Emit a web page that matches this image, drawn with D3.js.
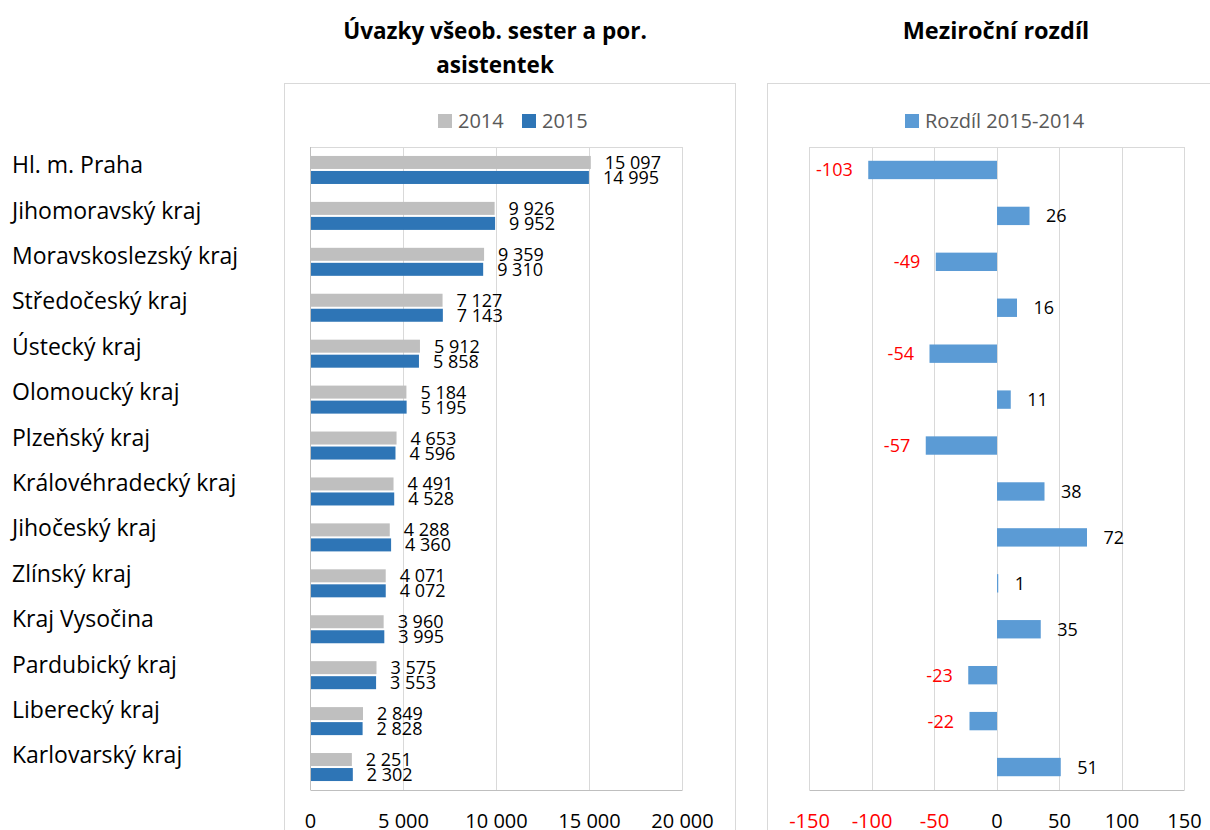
<!DOCTYPE html>
<html><head><meta charset="utf-8">
<script src="https://cdn.jsdelivr.net/npm/d3@7"></script>
<style>
body{margin:0;background:#fff;}
svg{display:block;font-family:"Open Sans",sans-serif;}
</style></head>
<body><svg id="c" width="1210" height="830"></svg>
<script>
const regions = ["Hl. m. Praha","Jihomoravský kraj","Moravskoslezský kraj","Středočeský kraj","Ústecký kraj","Olomoucký kraj","Plzeňský kraj","Královéhradecký kraj","Jihočeský kraj","Zlínský kraj","Kraj Vysočina","Pardubický kraj","Liberecký kraj","Karlovarský kraj"];
const values2014 = [15097,9926,9359,7127,5912,5184,4653,4491,4288,4071,3960,3575,2849,2251];
const values2015 = [14995,9952,9310,7143,5858,5195,4596,4528,4360,4072,3995,3553,2828,2302];
const diffs = [-103,26,-49,16,-54,11,-57,38,72,1,35,-23,-22,51];
const seriesNames = ["2014","2015"];
const leftTicks = [0,5000,10000,15000,20000];
const rightTicks = [-150,-100,-50,0,50,100,150];
const titleLeft = ["Úvazky všeob. sester a por.","asistentek"];
const titleRight = "Meziroční rozdíl";
const legendRight = "Rozdíl 2015-2014";

const loc = d3.formatLocale({decimal:",",thousands:"\u00a0",grouping:[3],currency:["",""],minus:"-"});
const fmt = loc.format(",d");

const svg = d3.select("#c");
const colGray = "#BFBFBF", colBlue = "#2E75B6", colDiff = "#5B9BD5", grid = "#D9D9D9";
const plotTop = 147, plotBottom = 790;

// chart boxes
svg.append("rect").attr("x",284.5).attr("y",83.5).attr("width",451).attr("height",760).attr("fill","none").attr("stroke",grid);
svg.append("rect").attr("x",767.5).attr("y",83.5).attr("width",460).attr("height",760).attr("fill","none").attr("stroke",grid);

// category labels
const yLab = d3.scalePoint().domain(regions).range([165,755]);
svg.append("g").selectAll("text").data(regions).join("text")
  .attr("x",12).attr("y",d=>yLab(d)).attr("dy","0.36em")
  .attr("font-size",23).attr("fill","#000").text(d=>d);

// titles
svg.append("g").selectAll("text").data(titleLeft).join("text")
  .attr("x",495).attr("y",(d,i)=>39+i*34).attr("text-anchor","middle")
  .attr("font-size",22.5).attr("font-weight","bold").text(d=>d);
svg.append("text").attr("x",996).attr("y",39).attr("text-anchor","middle")
  .attr("font-size",23.5).attr("font-weight","bold").text(titleRight);

// ===== Left chart =====
const xL = d3.scaleLinear().domain([0,20000]).range([310,682]);
const yL = d3.scaleBand().domain(regions).range([plotTop,plotBottom]).paddingInner(0.39).paddingOuter(0.195);
const ySub = d3.scaleBand().domain(seriesNames).range([0,yL.bandwidth()]).paddingInner(0.1333);

const gL = svg.append("g");
gL.append("g").selectAll("line").data(leftTicks).join("line")
  .attr("x1",d=>xL(d)+0.5).attr("x2",d=>xL(d)+0.5).attr("y1",plotTop).attr("y2",plotBottom).attr("stroke",grid);
gL.append("line").attr("x1",310).attr("x2",682).attr("y1",plotTop+0.5).attr("y2",plotTop+0.5).attr("stroke",grid);

const rowsL = regions.map((r,i)=>({r, v:[values2014[i],values2015[i]]}));
const rowG = gL.append("g").selectAll("g").data(rowsL).join("g")
  .attr("transform",d=>`translate(0,${yL(d.r)})`);
rowG.selectAll("rect").data(d=>d.v.map((v,j)=>({s:seriesNames[j],v}))).join("rect")
  .attr("x",xL(0)).attr("y",d=>ySub(d.s)).attr("height",ySub.bandwidth())
  .attr("width",d=>xL(d.v)-xL(0)).attr("fill",d=>d.s==="2014"?colGray:colBlue);
rowG.selectAll("text").data(d=>d.v.map((v,j)=>({s:seriesNames[j],v}))).join("text")
  .attr("x",d=>xL(d.v)+14).attr("y",d=>ySub(d.s)+ySub.bandwidth()/2).attr("dy","0.36em")
  .attr("font-size",18).attr("fill","#000").text(d=>fmt(d.v));

const axL = gL.append("g").attr("transform",`translate(0,${plotBottom})`)
  .call(d3.axisBottom(xL).tickValues(leftTicks).tickFormat(fmt).tickSize(0).tickPadding(24));
axL.select(".domain").attr("stroke","#BFBFBF");
axL.selectAll("text").attr("font-size",20).attr("font-family","Open Sans").attr("fill","#000");
gL.append("line").attr("x1",310.5).attr("x2",310.5).attr("y1",plotTop).attr("y2",plotBottom).attr("stroke","#BFBFBF");

// legend left
const legL = gL.append("g").selectAll("g").data(seriesNames).join("g")
  .attr("transform",(d,i)=>`translate(${438+i*84},114)`);
legL.append("rect").attr("width",14).attr("height",14).attr("fill",d=>d==="2014"?colGray:colBlue);
legL.append("text").attr("x",20).attr("y",7).attr("dy","0.36em").attr("font-size",20).attr("fill","#595959").text(d=>d);

// ===== Right chart =====
const xR = d3.scaleLinear().domain([-150,150]).range([809,1184]);
const yR = d3.scaleBand().domain(regions).range([plotTop,plotBottom]).paddingInner(0.6).paddingOuter(0.3);
const gR = svg.append("g");
gR.append("g").selectAll("line").data(rightTicks).join("line")
  .attr("x1",d=>Math.round(xR(d))+0.5).attr("x2",d=>Math.round(xR(d))+0.5).attr("y1",plotTop).attr("y2",plotBottom).attr("stroke",grid);
gR.append("line").attr("x1",809).attr("x2",1184).attr("y1",plotTop+0.5).attr("y2",plotTop+0.5).attr("stroke",grid);

const rowsR = regions.map((r,i)=>({r,v:diffs[i]}));
gR.append("g").selectAll("rect").data(rowsR).join("rect")
  .attr("x",d=>xR(Math.min(0,d.v))+0.5).attr("y",d=>yR(d.r))
  .attr("width",d=>Math.abs(xR(d.v)-xR(0))).attr("height",yR.bandwidth()).attr("fill",colDiff);
gR.append("g").selectAll("text").data(rowsR).join("text")
  .attr("x",d=>d.v<0?xR(d.v)-15:xR(d.v)+17).attr("y",d=>yR(d.r)+yR.bandwidth()/2).attr("dy","0.36em")
  .attr("text-anchor",d=>d.v<0?"end":"start")
  .attr("font-size",18).attr("fill",d=>d.v<0?"#FF0000":"#000").text(d=>d.v);

const axR = gR.append("g").attr("transform",`translate(0,${plotBottom})`)
  .call(d3.axisBottom(xR).tickValues(rightTicks).tickFormat(d=>String(d)).tickSize(0).tickPadding(24));
axR.select(".domain").attr("stroke","#BFBFBF");
axR.selectAll("text").attr("font-size",20).attr("font-family","Open Sans").attr("fill",d=>d<0?"#FF0000":"#000");

// legend right
const legR = gR.append("g").attr("transform","translate(905,114)");
legR.append("rect").attr("width",14).attr("height",14).attr("fill",colDiff);
legR.append("text").attr("x",20).attr("y",7).attr("dy","0.36em").attr("font-size",20).attr("fill","#595959").text(legendRight);
</script></body></html>
